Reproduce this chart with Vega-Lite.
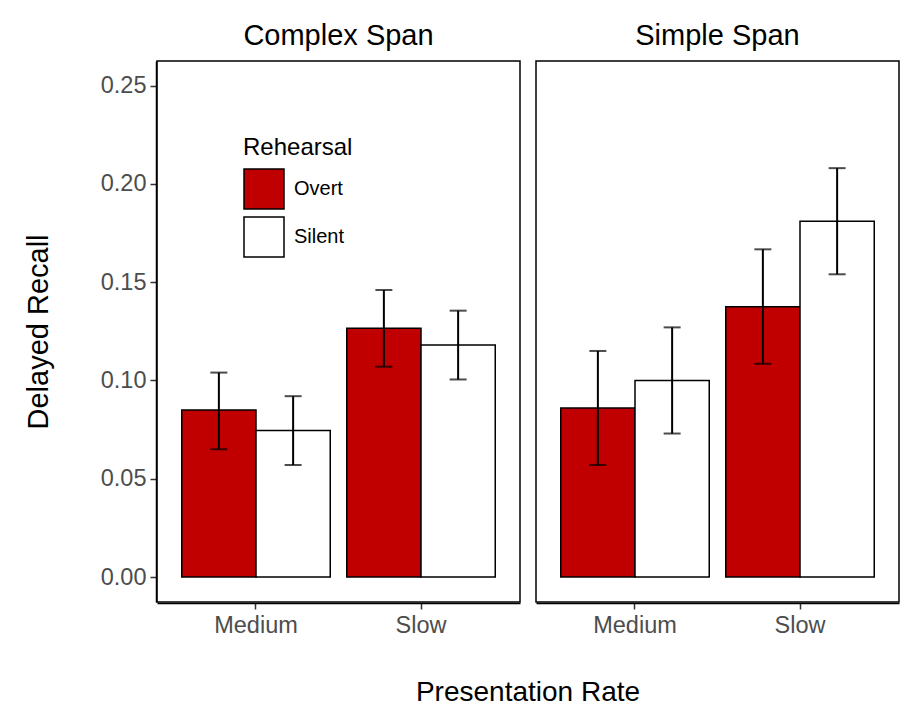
{
  "$schema": "https://vega.github.io/schema/vega-lite/v6.json",
  "padding": {"left": 24, "top": 22, "right": 2, "bottom": 5},
  "background": "white",
  "data": {
    "values": [
      {"Span": "Complex Span", "Rate": "Medium", "Rehearsal": "Overt", "Recall": 0.085, "Lower": 0.065, "Upper": 0.104},
      {"Span": "Complex Span", "Rate": "Medium", "Rehearsal": "Silent", "Recall": 0.0745, "Lower": 0.057, "Upper": 0.092},
      {"Span": "Complex Span", "Rate": "Slow", "Rehearsal": "Overt", "Recall": 0.1265, "Lower": 0.107, "Upper": 0.146},
      {"Span": "Complex Span", "Rate": "Slow", "Rehearsal": "Silent", "Recall": 0.118, "Lower": 0.1005, "Upper": 0.1355},
      {"Span": "Simple Span", "Rate": "Medium", "Rehearsal": "Overt", "Recall": 0.086, "Lower": 0.057, "Upper": 0.115},
      {"Span": "Simple Span", "Rate": "Medium", "Rehearsal": "Silent", "Recall": 0.1, "Lower": 0.073, "Upper": 0.127},
      {"Span": "Simple Span", "Rate": "Slow", "Rehearsal": "Overt", "Recall": 0.1375, "Lower": 0.1085, "Upper": 0.1667},
      {"Span": "Simple Span", "Rate": "Slow", "Rehearsal": "Silent", "Recall": 0.181, "Lower": 0.154, "Upper": 0.208}
    ]
  },
  "facet": {
    "column": {
      "field": "Span",
      "type": "nominal",
      "title": "Presentation Rate",
      "header": {
        "labelFont": "Liberation Sans",
        "labelFontSize": 29,
        "labelColor": "black",
        "labelPadding": 9,
        "titleOrient": "bottom",
        "titleFont": "Liberation Sans",
        "titleFontSize": 28,
        "titleFontWeight": "normal",
        "titleColor": "black",
        "titlePadding": 32
      }
    }
  },
  "spacing": 14,
  "spec": {
    "width": 363,
    "height": 541,
    "encoding": {
      "x": {
        "field": "Rate",
        "type": "nominal",
        "title": null,
        "scale": {"paddingInner": 0.1, "paddingOuter": 0.15},
        "axis": {"labelAngle": 0}
      },
      "xOffset": {"field": "Rehearsal", "type": "nominal", "scale": {"domain": ["Overt", "Silent"]}}
    },
    "layer": [
      {
        "mark": {"type": "bar", "stroke": "black", "strokeWidth": 1.5},
        "encoding": {
          "y": {
            "field": "Recall",
            "type": "quantitative",
            "title": "Delayed Recall",
            "scale": {"domain": [-0.0127, 0.2625], "nice": false, "zero": false},
            "axis": {"values": [0, 0.05, 0.1, 0.15, 0.2, 0.25], "format": ".2f", "grid": false}
          },
          "fill": {
            "field": "Rehearsal",
            "type": "nominal",
            "scale": {"domain": ["Overt", "Silent"], "range": ["#C00000", "#FFFFFF"]},
            "legend": {
              "orient": "none",
              "legendX": 86,
              "legendY": 75,
              "title": "Rehearsal",
              "titleFont": "Liberation Sans",
              "titleFontSize": 24,
              "titleFontWeight": "normal",
              "titleColor": "black",
              "titlePadding": 8,
              "labelFont": "Liberation Sans",
              "labelFontSize": 20,
              "labelColor": "black",
              "labelOffset": 9,
              "symbolType": "square",
              "symbolSize": 1600,
              "symbolStrokeColor": "black",
              "symbolStrokeWidth": 1.5,
              "rowPadding": 2
            }
          }
        }
      },
      {
        "mark": {"type": "rule", "color": "black", "strokeWidth": 2},
        "encoding": {
          "y": {"field": "Lower", "type": "quantitative", "title": "Delayed Recall"},
          "y2": {"field": "Upper"}
        }
      },
      {
        "mark": {"type": "tick", "orient": "horizontal", "color": "black", "size": 17, "thickness": 2},
        "encoding": {"y": {"field": "Lower", "type": "quantitative", "title": "Delayed Recall"}}
      },
      {
        "mark": {"type": "tick", "orient": "horizontal", "color": "black", "size": 17, "thickness": 2},
        "encoding": {"y": {"field": "Upper", "type": "quantitative", "title": "Delayed Recall"}}
      }
    ]
  },
  "config": {
    "view": {"stroke": "black", "strokeWidth": 1.5},
    "axis": {
      "domainColor": "black",
      "domainWidth": 1.5,
      "tickColor": "#333333",
      "tickWidth": 1.5,
      "tickSize": 6,
      "labelFont": "Liberation Sans",
      "labelFontSize": 23.5,
      "labelColor": "#4D4D4D",
      "labelPadding": 4,
      "titleFont": "Liberation Sans",
      "titleFontSize": 29,
      "titleFontWeight": "normal",
      "titleColor": "black",
      "titlePadding": 47
    }
  }
}
